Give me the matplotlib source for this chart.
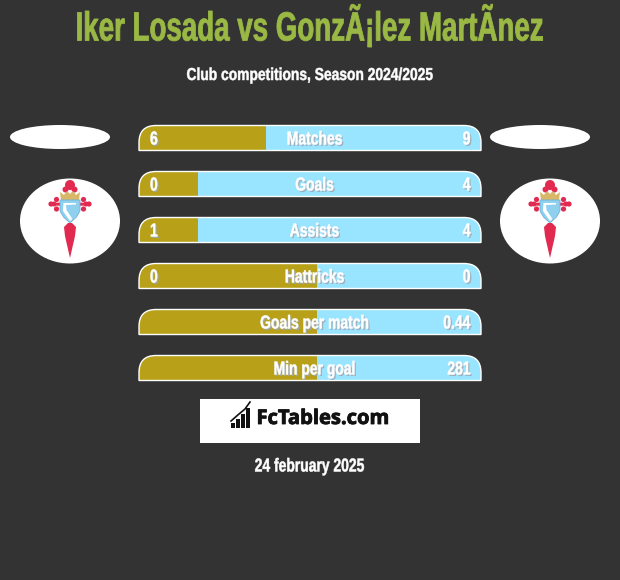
import matplotlib
matplotlib.use("Agg")
import matplotlib.pyplot as plt
import matplotlib.patheffects as pe
from matplotlib.patches import Ellipse, Rectangle, Polygon, Circle, PathPatch
from matplotlib.path import Path
from matplotlib.transforms import Affine2D

title = "Iker Losada vs Gonz\u00c3\u00a1lez Mart\u00c3nez"
subtitle = "Club competitions, Season 2024/2025"
date = "24 february 2025"
categories = ["Matches", "Goals", "Assists", "Hattricks", "Goals per match", "Min per goal"]
left_labels = ["6", "0", "1", "0", "", ""]
right_labels = ["9", "4", "4", "0", "0.44", "281"]
left_share = [37.1, 17.2, 17.2, 52, 52, 52]

BG = "#333333"; GOLD = "#b8a118"; BLUE = "#99e4ff"; GREEN = "#9ab844"
FONT = ["Liberation Sans", "DejaVu Sans"]


class Tall(pe.AbstractPathEffect):
    """Stretch glyphs upward from the baseline, to imitate a heavy condensed face."""
    def __init__(self, sy, shadow=False, stroke=0.35):
        super().__init__()
        self.sy = sy
        self.shadow = shadow
        self.stroke = stroke

    def draw_path(self, renderer, gc, tpath, affine, rgbFace=None):
        y0 = affine.get_matrix()[1, 2]
        a = affine + Affine2D().translate(0, -y0).scale(1, self.sy).translate(0, y0)
        if self.shadow:
            renderer.draw_path(gc, tpath, a + Affine2D().translate(1.5, -1.5), (0.62, 0.66, 0.70, 0.85))
        gc2 = renderer.new_gc()
        gc2.copy_properties(gc)
        gc2.set_linewidth(self.stroke)
        gc2.set_foreground(rgbFace)
        renderer.draw_path(gc2, tpath, a, rgbFace)
        gc2.restore()


fig = plt.figure(figsize=(6.2, 5.8), dpi=100, facecolor=BG)
ax = fig.add_axes([0, 0, 1, 1])
ax.set_xlim(0, 620); ax.set_ylim(580, 0); ax.axis("off")

ax.text(310, 40.5, title, color=GREEN, ha="center", va="baseline", fontsize=19.95, fontweight="bold",
        family=FONT, path_effects=[Tall(1.47, stroke=0.6)])
ax.text(309.5, 80, subtitle, color="white", ha="center", va="baseline", fontsize=9.95, fontweight="bold",
        family=FONT, path_effects=[Tall(1.25)])
ax.text(309.5, 471.5, date, color="white", ha="center", va="baseline", fontsize=10, fontweight="bold",
        family=FONT, path_effects=[Tall(1.35)])

X0, W, H, R = 139, 342, 25, 17
for i, cat in enumerate(categories):
    top = 125.5 + 46 * i
    x1 = X0 + W; b = top + H
    verts = [(X0, b), (X0, top + R), (X0, top), (X0 + R, top), (x1 - R, top), (x1, top), (x1, top + R), (x1, b), (X0, b)]
    codes = [Path.MOVETO, Path.LINETO, Path.CURVE3, Path.CURVE3, Path.LINETO, Path.CURVE3, Path.CURVE3, Path.LINETO, Path.CLOSEPOLY]
    shape = PathPatch(Path(verts, codes), facecolor="none", edgecolor="none", transform=ax.transData)
    ax.add_patch(shape)
    y = top + H / 2
    blue = ax.barh(y, W, height=H, left=X0, color=BLUE, linewidth=0)
    gold = ax.barh(y, W * left_share[i] / 100, height=H, left=X0, color=GOLD, linewidth=0)
    for bar in list(blue) + list(gold):
        bar.set_clip_path(shape)
    ax.add_patch(PathPatch(Path(verts, codes), facecolor="none", edgecolor="white", linewidth=1.0))
    base = y + 6.5
    ax.text(314.5, base, cat, color="white", ha="center", va="baseline", fontsize=10, fontweight="bold",
            family=FONT, path_effects=[Tall(1.35, True)])
    if left_labels[i]:
        ax.text(150, base, left_labels[i], color="white", ha="left", va="baseline", fontsize=10, fontweight="bold",
                family=FONT, path_effects=[Tall(1.35, True)])
    ax.text(470.5, base, right_labels[i], color="white", ha="right", va="baseline", fontsize=10, fontweight="bold",
            family=FONT, path_effects=[Tall(1.35, True)])

RED = "#e2294f"
def crest(cx):
    ax.add_patch(Ellipse((cx - 10, 137), 100, 24, color="white", lw=0))
    ax.add_patch(Ellipse((cx, 221), 100, 85, color="white", lw=0))
    # cross top and arms
    for dx, dy, r in [(0, 185, 5), (-4.5, 189.5, 3), (4.5, 189.5, 3)]:
        ax.add_patch(Circle((cx + dx, dy), r, color=RED, lw=0))
    for s in (-1, 1):
        for dx, dy, r in [(19, 204, 2.6), (13.5, 199.5, 2.6), (13.5, 209, 2.6), (16, 204, 2.5)]:
            ax.add_patch(Circle((cx + s * dx, dy), r, color=RED, lw=0))
        ax.add_patch(Polygon([(cx + s * 8, 202.5), (cx + s * 21, 203), (cx + s * 21, 205), (cx + s * 8, 206)], color=RED, lw=0))
    # crown
    ax.add_patch(Polygon([(cx - 10, 192), (cx - 6, 195), (cx - 3, 191), (cx, 194), (cx + 3, 191), (cx + 6, 195), (cx + 10, 192),
                          (cx + 9, 200), (cx - 9, 200)], color="#d8b868", lw=0))
    # shield
    ax.add_patch(Polygon([(cx - 10, 200), (cx + 10, 200), (cx + 10, 211), (cx + 6.5, 217), (cx, 223), (cx - 6.5, 217), (cx - 10, 211)],
                         facecolor="#8fd0ee", edgecolor="#6db3da", lw=0.6))
    ax.add_patch(Polygon([(cx - 6.5, 203), (cx + 6, 203), (cx + 6, 204.5), (cx - 4, 205), (cx - 3.5, 210), (cx + 2.5, 219), (cx, 221), (cx - 7, 211)],
                         color="white", lw=0))
    # sword
    ax.add_patch(Polygon([(cx - 2, 223), (cx + 2, 223), (cx + 6, 227), (cx + 5, 236), (cx, 258), (cx - 5, 236), (cx - 6, 227)], color=RED, lw=0))
crest(70); crest(550)

ax.add_patch(Rectangle((200, 399), 220, 44, color="white", lw=0))
ax.plot([231, 239, 245, 250], [421, 414, 409, 402], color="#111111", lw=1.2)
for x, t in [(231, 423), (236, 419), (241, 414), (246, 408)]:
    ax.add_patch(Rectangle((x, t), 4, 427.5 - t, color="#111111", lw=0))
ax.text(256.5, 424, "FcTables.com", color="#111111", ha="left", va="baseline", fontsize=14.5, fontweight="bold",
        family=["Open Sans", "DejaVu Sans"], path_effects=[pe.withStroke(linewidth=0.6, foreground="#111111")])

fig.savefig("out.png", dpi=100, facecolor=BG)
